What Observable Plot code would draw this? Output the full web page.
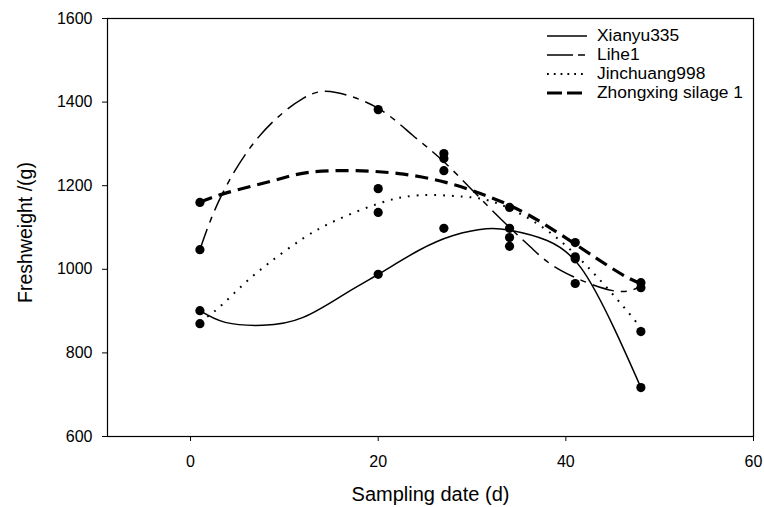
<!DOCTYPE html>
<html>
<head>
<meta charset="utf-8">
<script src="https://cdn.jsdelivr.net/npm/d3@7"></script>
<script src="https://cdn.jsdelivr.net/npm/@observablehq/plot@0.6"></script>
<style>
  body { margin: 0; background: #fff; }
  #wrap { position: relative; width: 764px; height: 507px; font-family: "Liberation Sans", Arial, sans-serif; }
  #legend { position: absolute; left: 546px; top: 26px; font-size: 17.4px; color: #000; }
  #legend .row { display: flex; align-items: center; height: 19px; }
  #legend svg { margin-right: 9px; }
</style>
</head>
<body>
<div id="wrap"></div>
<script>
// Observed data (sampling day, fresh weight g)
const days = [1, 20, 27, 34, 41, 48];
const xianyu = [901, 988, 1098, 1098, 1025, 717];
const lihe = [1047, 1382, 1277, 1055, 966, 956];
const jinchuang = [870, 1136, 1236, 1076, 1030, 851];
const zhongxing = [1160, 1193, 1265, 1148, 1064, 968];

// Fitted curves
const xianyuCurveDays = [1, 3.7, 7.7, 12, 16.5, 20, 24.3, 28, 31.5, 34.2, 38, 41.6, 45.1, 48];
const xianyuCurve = [901, 873, 866, 885, 942, 988, 1045, 1081, 1097, 1093, 1069, 1004, 861, 717];
const liheCurveDays = [1, 3.2, 7.2, 12, 15.5, 20, 23.7, 27.2, 32.5, 36.3, 39.5, 45, 48];
const liheCurve = [1047, 1172, 1315, 1409, 1423, 1385, 1320, 1253, 1133, 1052, 997, 949, 960];
const jinchuangCurveDays = [1, 2.9, 5.5, 8.3, 12, 15.5, 20, 24.3, 29, 32.8, 38, 42.7, 46.2, 48];
const jinchuangCurve = [875, 906, 961, 1014, 1074, 1117, 1157, 1177, 1174, 1157, 1093, 997, 909, 860];
const zhongxingCurveDays = [1, 4, 8.8, 12.6, 17.3, 22.2, 27.2, 32, 37.4, 44.8, 48];
const zhongxingCurve = [1160, 1184, 1212, 1232, 1236, 1229, 1208, 1172, 1112, 1004, 966];

const seriesNames = ["Xianyu335", "Lihe1", "Jinchuang998", "Zhongxing silage 1"];
const xTicks = [0, 20, 40, 60];
const yTicks = [600, 800, 1000, 1200, 1400, 1600];
const xTitle = "Sampling date (d)";
const yTitle = "Freshweight /(g)";

const styles = {
  "Xianyu335": {strokeWidth: 1.5, dash: null, legendDash: null},
  "Lihe1": {strokeWidth: 1.5, dash: "22,7,6,7", legendDash: "26,5,7,5"},
  "Jinchuang998": {strokeWidth: 2, dash: "1.8,7", legendDash: "1.8,5"},
  "Zhongxing silage 1": {strokeWidth: 3.2, dash: "13,7", legendDash: "15,5"}
};

const obsSets = [xianyu, lihe, jinchuang, zhongxing];
const curveSets = [
  [xianyuCurveDays, xianyuCurve],
  [liheCurveDays, liheCurve],
  [jinchuangCurveDays, jinchuangCurve],
  [zhongxingCurveDays, zhongxingCurve]
];

const points = [];
obsSets.forEach((vals, i) => vals.forEach((v, j) => points.push({series: seriesNames[i], day: days[j], w: v})));

const lineMarks = curveSets.map(([ds, vs], i) => {
  const name = seriesNames[i];
  const st = styles[name];
  const data = ds.map((d, k) => ({day: d, w: vs[k]}));
  return Plot.line(data, {
    x: "day", y: "w", curve: "natural", stroke: "#000",
    strokeWidth: st.strokeWidth, strokeDasharray: st.dash || undefined,
    strokeLinecap: "butt"
  });
});

const chart = Plot.plot({
  width: 764,
  height: 507,
  marginLeft: 107,
  marginRight: 11,
  marginTop: 18,
  marginBottom: 71,
  style: {fontFamily: "'Liberation Sans', Arial, sans-serif", fontSize: "16px", color: "#000", background: "#fff"},
  x: {domain: [-8.85, 60], ticks: xTicks, label: null},
  y: {domain: [600, 1600], ticks: yTicks, label: null},
  marks: [
    Plot.frame({stroke: "#000", strokeWidth: 1.2}),
    Plot.axisX({ticks: xTicks, tickFormat: d => String(d), tickSize: 5, tickPadding: 14, label: null, fontSize: 16}),
    Plot.axisY({ticks: yTicks, tickFormat: d => String(d), tickSize: 5, tickPadding: 10, label: null, fontSize: 16}),
    Plot.text([xTitle], {text: d => d, frameAnchor: "bottom", dy: 58, textAnchor: "middle", lineAnchor: "middle", fontSize: 20, fill: "#000"}),
    Plot.text([yTitle], {text: d => d, frameAnchor: "left", dx: -82, dy: 5, rotate: -90, textAnchor: "middle", lineAnchor: "middle", fontSize: 19.5, fill: "#000"}),
    ...lineMarks,
    Plot.dot(points, {x: "day", y: "w", r: 4.6, fill: "#000", stroke: "none"})
  ]
});

const wrap = document.getElementById("wrap");
wrap.appendChild(chart);

// Legend overlay
const legend = document.createElement("div");
legend.id = "legend";
seriesNames.forEach(name => {
  const st = styles[name];
  const row = document.createElement("div");
  row.className = "row";
  const ns = "http://www.w3.org/2000/svg";
  const s = document.createElementNS(ns, "svg");
  s.setAttribute("width", "42"); s.setAttribute("height", "10");
  const l = document.createElementNS(ns, "line");
  l.setAttribute("x1", "1"); l.setAttribute("x2", "41");
  l.setAttribute("y1", "5"); l.setAttribute("y2", "5");
  l.setAttribute("stroke", "#000");
  l.setAttribute("stroke-width", st.strokeWidth);
  if (st.legendDash) l.setAttribute("stroke-dasharray", st.legendDash);
  s.appendChild(l);
  row.appendChild(s);
  const t = document.createElement("span");
  t.textContent = name;
  row.appendChild(t);
  legend.appendChild(row);
});
wrap.appendChild(legend);
</script>
</body>
</html>
